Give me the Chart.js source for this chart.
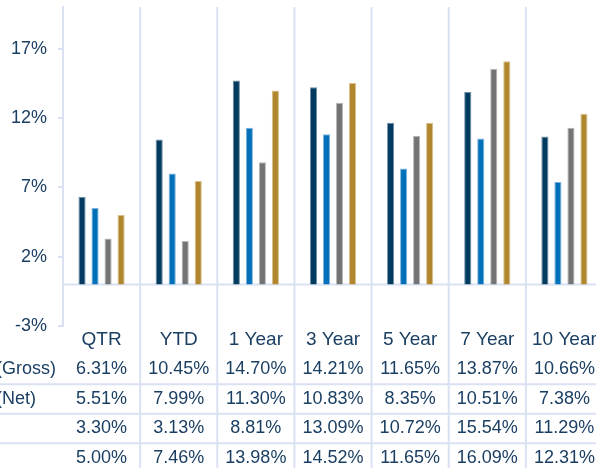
<!DOCTYPE html>
<html>
<head>
<meta charset="utf-8">
<script src="https://cdn.jsdelivr.net/npm/chart.js@4"></script>
<style>
  html, body { margin: 0; padding: 0; background: #fff; overflow: hidden; }
  #wrap { width: 603px; height: 468px; }
</style>
</head>
<body>
<div id="wrap"><canvas id="returns-chart"></canvas></div>
<script>
// Data
const categories = ['QTR', 'YTD', '1 Year', '3 Year', '5 Year', '7 Year', '10 Year'];
const fundGross = [6.31, 10.45, 14.70, 14.21, 11.65, 13.87, 10.66];
const fundNet = [5.51, 7.99, 11.30, 10.83, 8.35, 10.51, 7.38];
const benchA = [3.30, 3.13, 8.81, 13.09, 10.72, 15.54, 11.29];
const benchB = [5.00, 7.46, 13.98, 14.52, 11.65, 16.09, 12.31];
const rowLabels = ['(Gross)', '(Net)', '', ''];
const yTicks = [-3, 2, 7, 12, 17];

const textColor = '#1B3F63';
const lineColor = '#D9E1F2';
const fontFamily = "'Liberation Sans', Arial, sans-serif";

const series = [
  { label: 'Fund (Gross)', data: fundGross, color: '#023B5F', edge: '#6F8EA6' },
  { label: 'Fund (Net)', data: fundNet, color: '#0071B9', edge: '#7FB4DA' },
  { label: 'Benchmark A', data: benchA, color: '#747474', edge: '#B8B8B8' },
  { label: 'Benchmark B', data: benchB, color: '#B0862F', edge: '#D9C08C' },
];

const fmt = v => v.toFixed(2) + '%';

// grid lines, zero line and the table under the plot
const tablePlugin = {
  id: 'returnsTable',
  beforeDatasetsDraw(chart) {
    const { ctx, chartArea, scales: { x, y } } = chart;
    ctx.save();
    ctx.strokeStyle = lineColor;
    ctx.lineWidth = 2;
    for (let i = 0; i < categories.length; i++) {
      const px = x.getPixelForValue(i + 0.5);
      ctx.beginPath();
      ctx.moveTo(px, chartArea.top);
      ctx.lineTo(px, chart.height);
      ctx.stroke();
    }
    const zero = y.getPixelForValue(0);
    ctx.beginPath();
    ctx.moveTo(chartArea.left, zero);
    ctx.lineTo(chart.width, zero);
    ctx.stroke();

    const headerY = chartArea.bottom + 14;
    const pitch = 29.5;
    for (let r = 1; r < rowLabels.length; r++) {
      const ly = headerY + pitch * r + pitch / 2;
      ctx.beginPath();
      ctx.moveTo(0, ly);
      ctx.lineTo(chart.width, ly);
      ctx.stroke();
    }
    ctx.restore();
  },
  afterDraw(chart) {
    const { ctx, chartArea, scales: { x } } = chart;
    const headerY = chartArea.bottom + 14;
    const pitch = 29.5;
    ctx.save();
    ctx.font = '18px ' + fontFamily;
    ctx.fillStyle = textColor;
    ctx.textBaseline = 'middle';
    series.forEach((s, r) => {
      const ry = headerY + pitch * (r + 1);
      ctx.textAlign = 'left';
      ctx.fillText(rowLabels[r], -4, ry);
      ctx.textAlign = 'center';
      s.data.forEach((v, i) => {
        ctx.fillText(fmt(v), x.getPixelForValue(i), ry);
      });
    });
    ctx.restore();
  }
};

new Chart(document.getElementById('returns-chart'), {
  type: 'bar',
  data: {
    labels: categories,
    datasets: series.map(s => ({
      label: s.label,
      data: s.data,
      backgroundColor: s.color,
      borderColor: s.edge,
      borderWidth: 1,
      categoryPercentage: 0.675,
      barPercentage: 0.55,
    })),
  },
  options: {
    responsive: true,
    maintainAspectRatio: false,
    animation: false,
    layout: { padding: { top: 7, right: 0, bottom: 0, left: 0 } },
    plugins: {
      legend: { display: false },
      tooltip: { enabled: false },
    },
    scales: {
      x: {
        grid: { display: false, drawTicks: false },
        border: { display: false },
        ticks: {
          autoSkip: false,
          maxRotation: 0,
          padding: 2,
          color: textColor,
          font: { family: fontFamily, size: 19 },
        },
        afterFit: axis => { axis.height = 142; axis.paddingLeft = 0; axis.paddingRight = 0; },
      },
      y: {
        min: -3,
        max: 20,
        grid: { drawOnChartArea: false, drawTicks: true, tickLength: 5, color: lineColor, lineWidth: 2 },
        border: { display: true, color: lineColor, width: 2 },
        ticks: {
          padding: 11,
          color: textColor,
          font: { family: fontFamily, size: 18 },
          callback: v => v + '%',
        },
        afterBuildTicks: axis => { axis.ticks = yTicks.map(v => ({ value: v })); },
        afterFit: axis => { axis.width = 63; axis.paddingTop = 0; axis.paddingBottom = 0; },
      },
    },
  },
  plugins: [tablePlugin],
});
</script>
</body>
</html>
